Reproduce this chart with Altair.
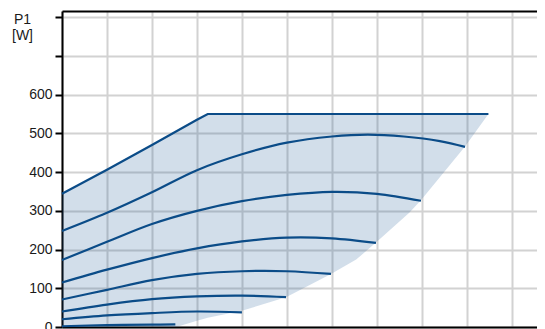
import altair as alt
import pandas as pd

# ---- data ----
# envelope (shaded operating range)
q_fill = [0, 0.5, 1.0, 1.27, 1.5, 1.62, 2.0, 2.49, 2.99, 3.27, 3.49, 3.86, 3.99, 4.48, 4.74]
p_fill_hi = [344, 406, 470, 505, 535, 550, 550, 550, 550, 550, 550, 550, 550, 550, 550]
p_fill_lo = [0, 0, 0, 0, 16, 24, 42, 77, 137, 174, 218, 295, 327, 466, 550]

# power curves P1 [W] vs Q [m3/h]
q_top = [0, 0.5, 1.0, 1.5, 1.62, 4.74]
p_top = [344, 406, 470, 535, 550, 550]

q_c2 = [0, 0.5, 1.0, 1.5, 2.0, 2.5, 3.0, 3.4, 3.8, 4.2, 4.48]
p_c2 = [248, 295, 348, 405, 446, 476, 492, 497, 492, 480, 465]

q_c3 = [0, 0.5, 1.0, 1.5, 2.0, 2.5, 3.0, 3.5, 3.99]
p_c3 = [173, 220, 266, 300, 325, 341, 349, 344, 326]

q_c4 = [0, 0.5, 1.0, 1.5, 2.0, 2.5, 3.0, 3.49]
p_c4 = [115, 148, 178, 203, 221, 231, 229, 217]

q_c5 = [0, 0.5, 1.0, 1.5, 2.0, 2.5, 2.99]
p_c5 = [71, 96, 121, 137, 144, 144, 137]

q_c6 = [0, 0.5, 1.0, 1.5, 2.0, 2.49]
p_c6 = [40, 58, 72, 79, 81, 77]

q_c7 = [0, 0.5, 1.0, 1.5, 2.0]
p_c7 = [20, 30, 36, 40, 38]

q_c8 = [0, 0.5, 1.0, 1.26]
p_c8 = [2, 5, 6, 7]

x_ticks = [0, 0.5, 1.0, 1.5, 2.0, 2.5, 3.0, 3.5, 4.0, 4.5, 5.0]
y_ticks = [0, 100, 200, 300, 400, 500, 600, 700, 800]

# ---- build tables ----
fill_df = pd.DataFrame({"q": q_fill, "hi": p_fill_hi, "lo": p_fill_lo})
top_df = pd.DataFrame({"q": q_top, "p": p_top})

curves = [
    ("c2", q_c2, p_c2), ("c3", q_c3, p_c3), ("c4", q_c4, p_c4),
    ("c5", q_c5, p_c5), ("c6", q_c6, p_c6), ("c7", q_c7, p_c7),
    ("c8", q_c8, p_c8),
]
rows = []
for name, qs, ps in curves:
    for q, p in zip(qs, ps):
        rows.append({"curve": name, "q": q, "p": p})
line_df = pd.DataFrame(rows)

FONT = "Liberation Sans"
GRID = "#d2d2d2"
LINE = "#0b4c88"

xscale = alt.Scale(domain=[0, 5.28], nice=False, zero=False)
yscale = alt.Scale(domain=[0, 816], nice=False)


def y_axis():
    return alt.Axis(
        values=y_ticks,
        labelExpr="datum.value <= 600 ? datum.label : ''",
        title=["P1", "[W]"],
        titleAngle=0,
        titleAlign="center",
        titleBaseline="top",
        titleX=-40,
        titleY=1,
        titleFontSize=14,
        titleFontWeight="normal",
        titleLineHeight=16,
        titleFont=FONT,
        titleColor="#1a1a1a",
        labelFont=FONT,
        labelFontSize=14,
        labelColor="#1a1a1a",
        labelPadding=3,
        domainColor="black",
        domainWidth=2,
        tickColor="black",
        tickWidth=2,
        tickSize=7,
        gridColor=GRID,
        gridWidth=2,
    )


area = alt.Chart(fill_df).mark_area(
    color="#1f5a96", opacity=0.2, interpolate="linear"
).encode(
    x=alt.X("q:Q", scale=xscale, axis=alt.Axis(
        orient="bottom", values=x_ticks, labels=False, ticks=False, title=None,
        domainColor="black", domainWidth=2, gridColor=GRID, gridWidth=2)),
    y=alt.Y("hi:Q", scale=yscale, axis=y_axis()),
    y2="lo:Q",
)

top_line = alt.Chart(top_df).mark_line(
    color=LINE, strokeWidth=2.2, interpolate="linear"
).encode(
    x=alt.X("q:Q", scale=xscale, axis=alt.Axis(
        orient="top", values=x_ticks, labels=False, ticks=False, grid=False,
        title=None, domainColor="black", domainWidth=2)),
    y=alt.Y("p:Q", scale=yscale, axis=y_axis()),
)

lines = alt.Chart(line_df).mark_line(
    color=LINE, strokeWidth=2.2, interpolate="catmull-rom"
).encode(
    x=alt.X("q:Q", scale=xscale, axis=alt.Axis(
        orient="top", values=x_ticks, labels=False, ticks=False, grid=False,
        title=None, domainColor="black", domainWidth=2)),
    y=alt.Y("p:Q", scale=yscale, axis=y_axis()),
    detail="curve:N",
)

chart = alt.layer(area, top_line + lines).resolve_axis(x="independent").properties(
    width=475,
    height=316,
    autosize=alt.AutoSizeParams(type="none"),
    padding={"left": 54, "top": 3, "right": 0, "bottom": 4},
).configure_view(stroke=None)

chart.save("out.html", embed_options={"renderer": "svg", "actions": False})
